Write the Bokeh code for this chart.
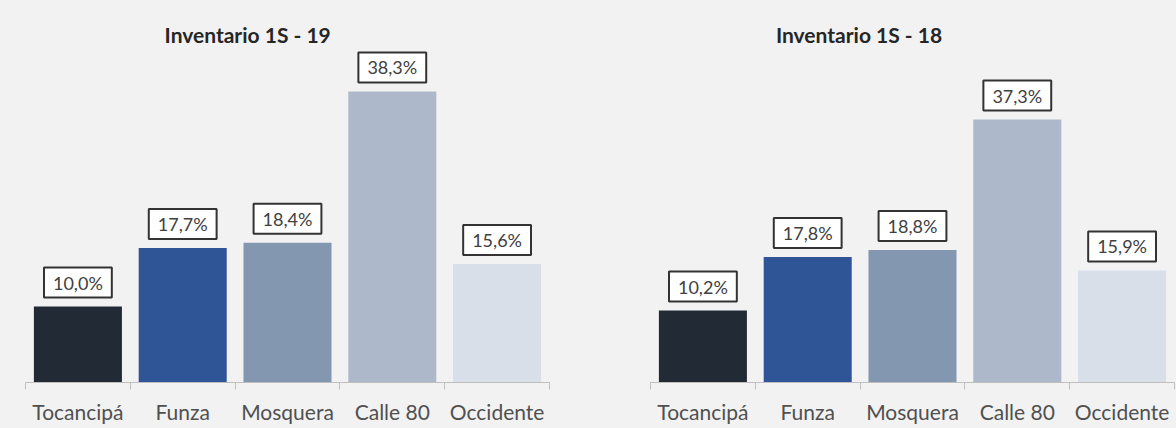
from bokeh.plotting import figure
from bokeh.models import (Label, LinearAxis, Range1d, FixedTicker,
                          GlobalInlineStyleSheet, ColumnDataSource)
from bokeh.layouts import row
from bokeh.embed import file_html
from bokeh.resources import INLINE

categories = ["Tocancipá", "Funza", "Mosquera", "Calle 80", "Occidente"]
values_19 = [10.0, 17.7, 18.4, 38.3, 15.6]
values_18 = [10.2, 17.8, 18.8, 37.3, 15.9]
title_19 = "Inventario 1S - 19"
title_18 = "Inventario 1S - 18"
bar_colors = ["#222a35", "#2f5597", "#8497b0", "#adb9ca", "#d9dfe8"]

BG = "#f2f2f2"
FONT = "Lato"


def make_chart(values, title, width, border_left, border_right, y_end, title_x, title_y):
    n = len(categories)
    centers = [i + 0.5 for i in range(n)]
    p = figure(x_range=Range1d(0, n), y_range=Range1d(0, y_end), width=width, height=428,
               output_backend="svg", toolbar_location=None,
               x_axis_location=None, y_axis_location=None,
               min_border_left=border_left, min_border_right=border_right,
               min_border_top=13, min_border_bottom=46)
    p.background_fill_color = BG
    p.border_fill_color = BG
    p.outline_line_color = None
    p.grid.visible = False

    src = ColumnDataSource(dict(x=centers, val=values, color=bar_colors))
    p.vbar(x="x", top="val", width=0.84, color="color", source=src, line_color=None)

    # axis line with ticks on category boundaries
    bounds = list(range(n + 1))
    ax1 = LinearAxis(ticker=FixedTicker(ticks=bounds),
                     major_label_overrides={b: "" for b in bounds})
    ax1.axis_line_color = "#bfbfbf"
    ax1.major_tick_line_color = "#bfbfbf"
    ax1.major_tick_out = 7
    ax1.major_tick_in = 0
    ax1.minor_tick_line_color = None
    ax1.major_label_text_font_size = "1px"
    ax1.major_label_standoff = 0
    p.add_layout(ax1, "below")

    # category labels centred on each bar
    ax2 = LinearAxis(ticker=FixedTicker(ticks=centers),
                     major_label_overrides={c: name for c, name in zip(centers, categories)})
    ax2.axis_line_color = None
    ax2.major_tick_line_color = None
    ax2.minor_tick_line_color = None
    ax2.major_tick_out = 0
    ax2.major_tick_in = 0
    ax2.major_label_standoff = 9
    ax2.major_label_text_font = FONT
    ax2.major_label_text_font_size = "21px"
    ax2.major_label_text_color = "#505050"
    p.add_layout(ax2, "below")

    for c, v in zip(centers, values):
        txt = f"{v:.1f}".replace(".", ",") + "%"
        p.add_layout(Label(x=c, y=v, text=txt, y_offset=9,
                           text_align="center", text_baseline="bottom",
                           text_font=FONT, text_font_size="18px", text_color="#404040",
                           background_fill_color="white",
                           border_line_color="#333333", border_line_width=2,
                           padding=dict(left=9, right=9, top=4, bottom=4)))

    p.add_layout(Label(x=title_x, y=title_y, text=title, text_align="center",
                       text_baseline="middle", text_font=FONT, text_font_style="bold",
                       text_font_size="21px", text_color="#262626"))
    return p


p1 = make_chart(values_19, title_19, 578, 25, 29, 369 / 7.6, 2.12, 348 / 7.6)
p2 = make_chart(values_18, title_18, 598, 72, 2, 369 / 7.05, 1.99, 348 / 7.05)

layout = row(p1, p2, spacing=0)
layout.stylesheets = [GlobalInlineStyleSheet(css=f"body {{ background: {BG}; }}")]

open("out.html", "w").write(file_html(layout, INLINE))
